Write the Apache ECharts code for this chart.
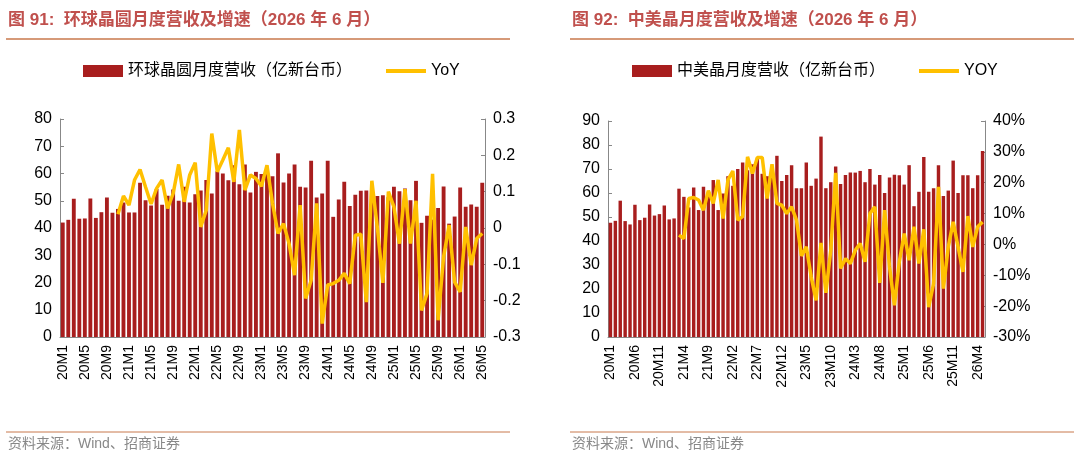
<!DOCTYPE html>
<html>
<head>
<meta charset="utf-8">
<script src="https://cdn.jsdelivr.net/npm/echarts@6/dist/echarts.min.js"></script>
<style>html,body{margin:0;padding:0;background:#fff}#main{width:1080px;height:476px}</style>
</head>
<body>
<div id="main"></div>
<script>
// months 20M1..26M5
var months = [];
for (var y = 20; y <= 26; y++) {
    for (var m = 1; m <= 12; m++) {
        if (y === 26 && m > 5) break;
        months.push(y + 'M' + m);
    }
}
var globalRev = [42,43,50.7,43.4,43.5,50.8,43.7,45.8,51.2,45.6,47,49.4,45.7,45.7,56.6,50.2,48.3,54.3,48.5,51.8,
    54.1,50,55.1,49.4,52.4,53.8,57.6,52.7,60.8,60,57.5,63,56.1,63.3,53,60.6,59.8,60,59,67.4,
    56.7,60,63.3,55.1,54.9,64.7,51.2,52.7,64.7,44.1,50.5,57,48.1,52.2,53.7,53.8,53.8,51.7,52,51.3,
    55.1,53.5,54.5,50.2,57.3,41.9,44.5,43.1,47.3,55.2,41.6,44.2,54.9,47.8,48.6,47.8,56.6];
var globalYoy = [null,null,null,null,null,null,null,null,null,null,
    0.038,0.088,0.063,0.132,0.161,0.113,0.066,0.109,0.132,0.054,0.095,0.175,0.072,0.146,0.18,0.003,0.049,0.26,0.155,0.187,
    0.221,0.127,0.27,0.104,0.146,0.136,0.115,0.173,0.068,-0.015,0.012,-0.043,-0.13,0.063,-0.194,-0.144,0.068,-0.263,-0.157,-0.153,
    -0.144,-0.125,-0.153,-0.02,-0.017,-0.204,0.13,0.001,-0.151,0.1,0.058,-0.043,0.107,-0.043,0.075,-0.227,-0.18,0.149,-0.254,-0.079,
    0.008,-0.149,-0.176,0.003,-0.102,-0.029,-0.015];
var chinaRev = [47.6,48.4,56.8,48.3,46.9,55.1,48.7,49.7,55.2,50.6,51.2,54.8,49,49.4,61.8,58.4,54,62.3,52.9,62.6,
    59.8,65.4,52.9,59.8,67,63,70,72.7,69.5,72,74.4,68,67,67.5,75.5,65,67.5,71.6,62,62,
    72.7,63,66,83.5,62,64.5,71,63.8,67.5,68.5,68.5,69.2,64.5,70,63.5,67.5,60,66.5,67.6,67.4,
    63.5,71.6,54.5,60.5,75,60.5,62,71.6,58.8,61,73.5,60,67.4,67.4,62,67.4,77.5];
var chinaYoy = [null,null,null,null,null,null,null,null,null,null,null,null,null,null,
    3,1.9,14.9,15.2,14.4,11.1,17.4,13.3,20.9,8.4,20.9,23.8,7.9,9,28.4,23,28.2,28.2,14.9,26,13.3,12.7,10,12.2,7.9,-3.7,
    -0.8,-10.5,-18.1,0.5,-15.7,-1.9,23.2,-7.8,-4.6,-6.2,-1.9,0.3,-5.6,10,12.2,-12.5,11.1,-7.3,-19.7,-5.6,3.5,-5.1,5.7,-6.2,4.9,
    -20.3,-12.7,18.7,-14.3,-0.8,7.3,-0.8,-8.9,9.2,-0.8,5.7,7.3];

var font = 'Arial, "Liberation Sans", "Noto Sans CJK SC", sans-serif';
var titleColor = '#C0504D';
var barColor = '#A81E1E';
var lineColor = '#FFC000';

function xAxis(gi, interval) {
    return {
        type: 'category', gridIndex: gi, data: months,
        axisLine: {lineStyle: {color: '#888'}}, axisTick: {show: false},
        axisLabel: {rotate: 90, interval: interval, fontSize: 14, color: '#000', fontFamily: font}
    };
}
function yAxis(gi, min, max, itv, pos, fmt) {
    return {
        type: 'value', gridIndex: gi, min: min, max: max, interval: itv, position: pos,
        splitLine: {show: false},
        axisLine: {show: true, lineStyle: {color: '#888'}},
        axisTick: {show: true, inside: true, length: 4, lineStyle: {color: '#888'}},
        axisLabel: {fontSize: 16, color: '#000', fontFamily: font, formatter: fmt}
    };
}

var chart = echarts.init(document.getElementById('main'));
chart.setOption({
    animation: false,
    textStyle: {fontFamily: font},
    legend: [
        {left: 78, top: 58, itemWidth: 40, itemHeight: 12, itemGap: 34,
         textStyle: {fontSize: 16, color: '#000'},
         data: [{name: '环球晶圆月度营收（亿新台币）', icon: 'rect'},
                {name: 'YoY', icon: 'path://M0,4 L40,4 L40,8 L0,8 Z'}]},
        {left: 627, top: 58, itemWidth: 40, itemHeight: 12, itemGap: 34,
         textStyle: {fontSize: 16, color: '#000'},
         data: [{name: '中美晶月度营收（亿新台币）', icon: 'rect'},
                {name: 'YOY', icon: 'path://M0,4 L40,4 L40,8 L0,8 Z'}]}
    ],
    grid: [
        {left: 60, top: 119, width: 425, height: 218},
        {left: 608, top: 121, width: 377, height: 216}
    ],
    xAxis: [xAxis(0, 3), xAxis(1, 4)],
    yAxis: [
        yAxis(0, 0, 80, 10, 'left'),
        yAxis(0, -0.3, 0.3, 0.1, 'right', function (v) { return v === 0 ? '0' : v.toFixed(1); }),
        yAxis(1, 0, 90, 10, 'left'),
        yAxis(1, -30, 40, 10, 'right', function (v) { return v + '%'; })
    ],
    series: [
        {name: '环球晶圆月度营收（亿新台币）', type: 'bar', xAxisIndex: 0, yAxisIndex: 0, z: 1,
         data: globalRev, barCategoryGap: '30%', itemStyle: {color: barColor}},
        {name: 'YoY', type: 'line', xAxisIndex: 0, yAxisIndex: 1, data: globalYoy, z: 5,
         symbol: 'none', lineStyle: {width: 3.5, color: lineColor}, itemStyle: {color: lineColor}},
        {name: '中美晶月度营收（亿新台币）', type: 'bar', xAxisIndex: 1, yAxisIndex: 2, z: 1,
         data: chinaRev, barCategoryGap: '30%', itemStyle: {color: barColor}},
        {name: 'YOY', type: 'line', xAxisIndex: 1, yAxisIndex: 3, data: chinaYoy, z: 5,
         symbol: 'none', lineStyle: {width: 3.5, color: lineColor}, itemStyle: {color: lineColor}}
    ],
    graphic: [
        {type: 'text', left: 8, top: 12, style: {text: '图 91:  环球晶圆月度营收及增速（2026 年 6 月）', fontSize: 17, fontWeight: 'bold', fill: titleColor, fontFamily: font}},
        {type: 'text', left: 572, top: 12, style: {text: '图 92:  中美晶月度营收及增速（2026 年 6 月）', fontSize: 17, fontWeight: 'bold', fill: titleColor, fontFamily: font}},
        {type: 'line', shape: {x1: 6, y1: 39, x2: 510, y2: 39}, style: {stroke: '#C8784D', lineWidth: 1.5}},
        {type: 'line', shape: {x1: 570, y1: 39, x2: 1074, y2: 39}, style: {stroke: '#C8784D', lineWidth: 1.5}},
        {type: 'line', shape: {x1: 6, y1: 432, x2: 510, y2: 432}, style: {stroke: '#C8784D', lineWidth: 1}},
        {type: 'line', shape: {x1: 570, y1: 432, x2: 1074, y2: 432}, style: {stroke: '#C8784D', lineWidth: 1}},
        {type: 'text', left: 8, top: 437, style: {text: '资料来源：Wind、招商证券', fontSize: 14, fill: '#888', fontFamily: font}},
        {type: 'text', left: 572, top: 437, style: {text: '资料来源：Wind、招商证券', fontSize: 14, fill: '#888', fontFamily: font}}
    ]
});
</script>
</body>
</html>
